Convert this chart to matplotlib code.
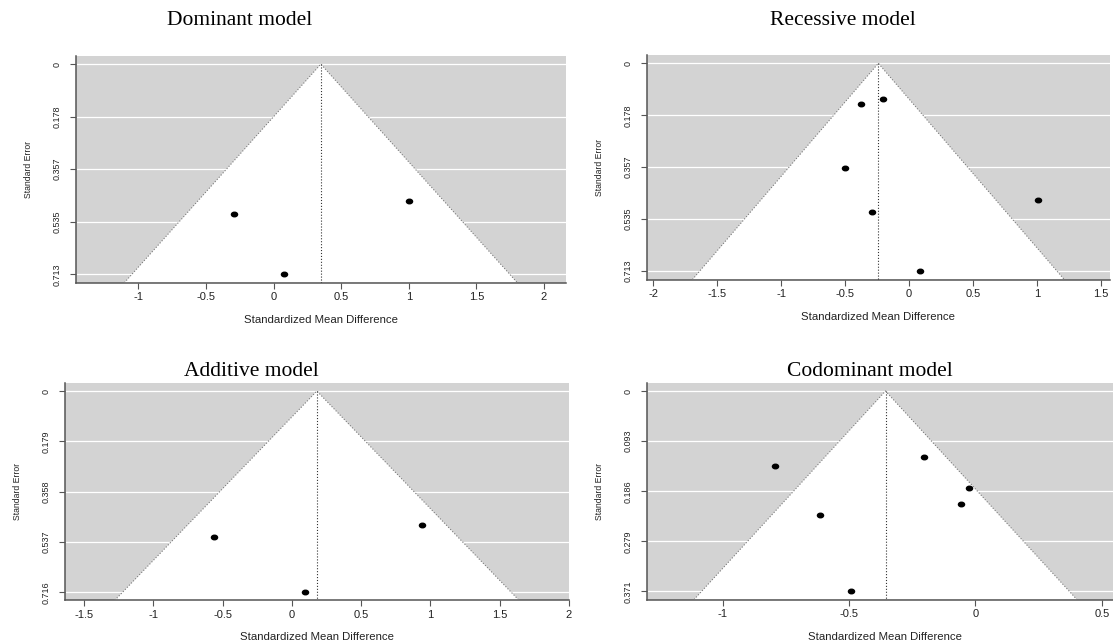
import numpy as np
import matplotlib
matplotlib.use("Agg")
import matplotlib.pyplot as plt
from matplotlib.path import Path
from matplotlib.transforms import Affine2D

plt.rcParams["axes.unicode_minus"] = False
plt.rcParams["font.family"] = ["Liberation Sans", "DejaVu Sans"]

W, H = 1113, 642

titles = ["Dominant model", "Recessive model", "Additive model", "Codominant model"]

# standardized mean difference / standard error of each study
dom_smd = [-0.293, 0.080, 1.002]
dom_se = [0.507, 0.713, 0.466]

rec_smd = [-0.372, -0.203, -0.502, -0.291, 1.008, 0.085]
rec_se = [0.140, 0.123, 0.358, 0.509, 0.468, 0.713]

add_smd = [-0.559, 0.094, 0.937]
add_se = [0.518, 0.716, 0.4765]

cod_smd = [-0.794, -0.615, -0.4925, -0.205, -0.024, -0.059]
cod_se = [0.1396, 0.2296, 0.371, 0.1219, 0.1788, 0.210]

# pooled estimate (vertical reference line) and largest SE for each model
centers = [0.350, -0.239, 0.181, -0.356]
se_max = [0.713, 0.713, 0.716, 0.3714]

ytick_labels = [
    ["0", "0.178", "0.357", "0.535", "0.713"],
    ["0", "0.178", "0.357", "0.535", "0.713"],
    ["0", "0.179", "0.358", "0.537", "0.716"],
    ["0", "0.093", "0.186", "0.279", "0.371"],
]
xticks = [
    [-1, -0.5, 0, 0.5, 1, 1.5, 2],
    [-2, -1.5, -1, -0.5, 0, 0.5, 1, 1.5],
    [-1.5, -1, -0.5, 0, 0.5, 1, 1.5, 2],
    [-1, -0.5, 0, 0.5],
]

smd_all = [dom_smd, rec_smd, add_smd, cod_smd]
se_all = [dom_se, rec_se, add_se, cod_se]

# panel boxes in pixels: left, top, right, bottom
boxes = [
    (76, 55.7, 565.7, 282.7),
    (646.7, 55, 1110, 279.5),
    (65, 383, 568.8, 600.3),
    (647, 383, 1124, 599.5),
]
# title centre x and baseline y in pixels
title_pos = [(240, 25), (843, 25), (251.5, 376), (870, 376)]

ell = Path.unit_circle().transformed(Affine2D().scale(1.35, 1.0))
spine_col = "#555555"

fig = plt.figure(figsize=(W / 100, H / 100), dpi=100)

for i in range(4):
    l, t, r, b = boxes[i]
    ax = fig.add_axes([l / W, 1 - b / H, (r - l) / W, (b - t) / H])
    smd, se = smd_all[i], se_all[i]
    c, smax = centers[i], se_max[i]

    # axis limits the way metafor's funnel() builds them
    ytop, ybot = -0.04 * smax, 1.04 * smax
    lo = min(c - 1.96 * smax, min(smd))
    hi = max(c + 1.96 * smax, max(smd))
    rx = hi - lo
    lo, hi = lo - 0.1 * rx, hi + 0.1 * rx
    rx = hi - lo
    ax.set_xlim(lo - 0.04 * rx, hi + 0.04 * rx)
    ax.set_ylim(ybot, ytop)

    ax.set_facecolor("#d3d3d3")
    yt = np.array([0, 0.25, 0.5, 0.75, 1.0]) * smax
    for y in yt:
        ax.axhline(y, color="white", lw=0.9, zorder=1)

    half = 1.96 * ybot
    ax.fill([c - half, c, c + half], [ybot, 0, ybot], color="white", zorder=2, lw=0)
    ax.plot([c - half, c, c + half], [ybot, 0, ybot], ls=":", color="#7a7a7a", lw=0.8, zorder=3)
    ax.plot([c, c], [0, ybot], ls=":", color="#333333", lw=0.8, zorder=3)
    ax.plot(smd, se, ls="none", marker=ell, ms=4.4, color="black", zorder=4)

    for s in ["top", "right"]:
        ax.spines[s].set_visible(False)
    for s in ["left", "bottom"]:
        ax.spines[s].set_color(spine_col)
        ax.spines[s].set_linewidth(1.1)

    ax.set_xticks(xticks[i])
    ax.set_xticklabels(["%g" % v for v in xticks[i]])
    ax.set_yticks(yt)
    ax.set_yticklabels(ytick_labels[i])
    ax.tick_params(axis="x", length=4.3, width=0.8, color=spine_col, pad=2.5, labelsize=8,
                   labelcolor="#222222")
    ax.tick_params(axis="y", length=4.3, width=0.8, color=spine_col, pad=6.0, labelsize=6.5,
                   labelrotation=90, labelcolor="#222222")
    for lab in ax.get_yticklabels():
        lab.set_va("center")

    wpx, hpx = r - l, b - t
    ax.set_xlabel("Standardized Mean Difference", fontsize=8.2, color="#222222")
    ax.xaxis.set_label_coords(0.5, -32 / hpx)
    ax.set_ylabel("Standard Error", fontsize=6.2, color="#222222")
    ax.yaxis.set_label_coords(-43 / wpx, 0.5)

    tx, ty = title_pos[i]
    fig.text(tx / W, 1 - ty / H, titles[i], ha="center", va="baseline",
             fontsize=15.5, family=["Liberation Serif", "DejaVu Serif"])

fig.savefig("out.png", dpi=100)
